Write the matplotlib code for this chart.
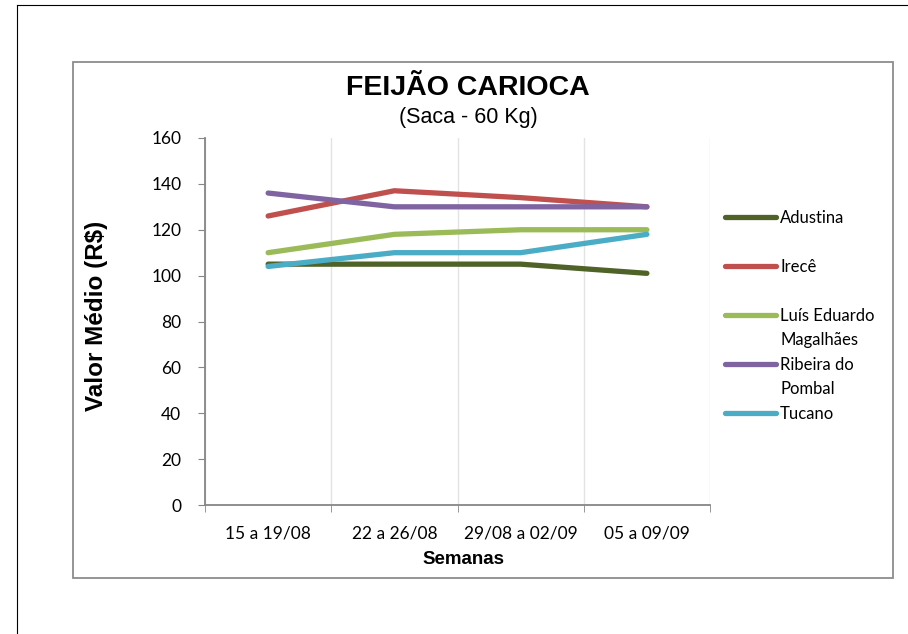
import numpy as np
import matplotlib.pyplot as plt
from matplotlib.lines import Line2D
from matplotlib.patches import Rectangle

# weekly average price per city
semanas = ['15 a 19/08', '22 a 26/08', '29/08 a 02/09', '05 a 09/09']
adustina = [105, 105, 105, 101]
irece = [126, 137, 134, 130]
luis_eduardo = [110, 118, 120, 120]
ribeira = [136, 130, 130, 130]
tucano = [104, 110, 110, 118]

nomes = ['Adustina', 'Irecê', 'Luís Eduardo\nMagalhães', 'Ribeira do\nPombal', 'Tucano']
series = [adustina, irece, luis_eduardo, ribeira, tucano]
cores = ['#4F6228', '#C0504D', '#9BBB59', '#8064A2', '#4BACC6']

fig = plt.figure(figsize=(9.08, 6.34), dpi=100)

# page border (left and top) and chart frame
fig.add_artist(Line2D([17/908, 17/908], [0, 1 - 5/634], color='black', lw=0.8))
fig.add_artist(Line2D([17/908, 1], [1 - 5/634, 1 - 5/634], color='black', lw=0.8))
fig.add_artist(Rectangle((73/908, 1 - 578/634), (893 - 73)/908, (578 - 62)/634,
                         fill=False, edgecolor='#8C8C8C', lw=1.3))

ax = fig.add_axes([205/908, 1 - 505/634, 505/908, 367/634])
x = np.arange(len(semanas))
for vals, nome, cor in zip(series, nomes, cores):
    ax.plot(x, vals, color=cor, lw=3.8, solid_capstyle='round', label=nome)

ax.set_xlim(-0.5, len(semanas) - 0.5)
ax.set_ylim(0, 160)
ax.set_yticks(range(0, 161, 20))
ax.set_xticks(x)
ax.set_xticklabels(semanas, fontfamily='Lato', fontsize=12.5)
ax.set_xticks(np.arange(-0.5, len(semanas), 1), minor=True)
ax.tick_params(axis='x', which='major', length=0, pad=15)
ax.tick_params(axis='x', which='minor', length=5, color='#868686', direction='out')
ax.tick_params(axis='y', length=5, color='#868686', direction='out', pad=12)
for lab in ax.get_yticklabels():
    lab.set_fontfamily('Lato')
    lab.set_fontsize(12.5)
ax.grid(True, which='minor', axis='x', color='#E3E3E3', lw=1)
for s in ['top', 'right']:
    ax.spines[s].set_visible(False)
for s in ['left', 'bottom']:
    ax.spines[s].set_color('#868686')
    ax.spines[s].set_linewidth(1.3)

fig.text(468/908, 1 - 88/634, 'FEIJÃO CARIOCA', ha='center', va='center',
         fontfamily='Liberation Sans', fontweight='bold', fontsize=20.5)
fig.text(468/908, 1 - 117/634, '(Saca - 60 Kg)', ha='center', va='center',
         fontfamily='Liberation Sans', fontsize=15.5)
fig.text(97/908, 1 - 316/634, 'Valor Médio (R$)', ha='center', va='center', rotation=90,
         fontfamily='Liberation Sans', fontweight='bold', fontsize=17.5)
fig.text(463/908, 1 - 560/634, 'Semanas', ha='center', va='center',
         fontfamily='Liberation Sans', fontweight='bold', fontsize=13.5)

# legend drawn like the spreadsheet one: line beside first text line
leg_y = [217, 266, 315, 364, 413]
for nome, cor, yy in zip(nomes, cores, leg_y):
    fy = 1 - yy/634
    fig.add_artist(Line2D([725/908, 776/908], [fy, fy], color=cor, lw=3.8,
                          solid_capstyle='round'))
    fig.text(780/908, fy + 7/634, nome, ha='left', va='top', fontfamily='Lato',
             fontsize=12, linespacing=1.6)

fig.savefig('out.png', dpi=100)
